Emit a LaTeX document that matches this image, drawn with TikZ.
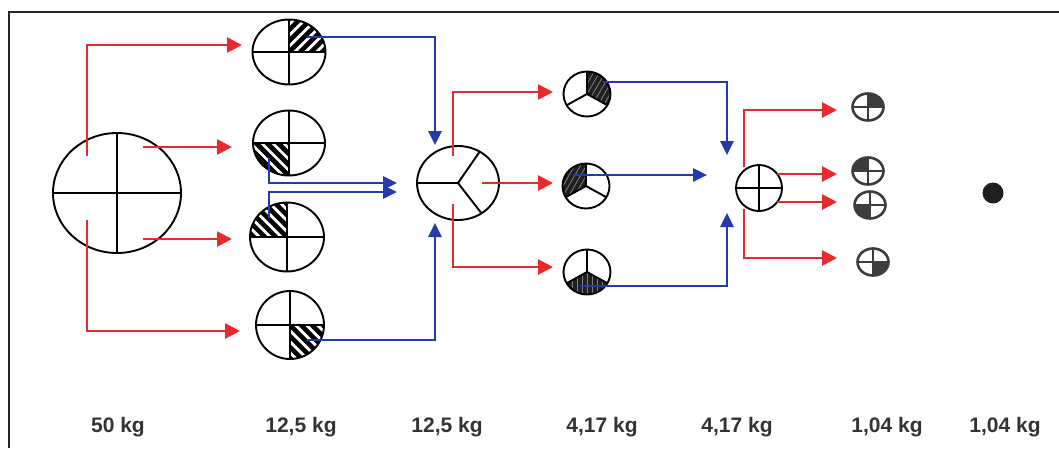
\documentclass[tikz,border=0pt]{standalone}
\usepackage{fontspec}
\setmainfont{Liberation Sans}
\usetikzlibrary{arrows.meta}
\definecolor{myred}{HTML}{E62A2E}
\definecolor{myblue}{HTML}{233CAA}
\definecolor{txt}{HTML}{333333}
\definecolor{sgray}{HTML}{3C3C3C}
\tikzset{
  circ/.style={draw=black, line width=1.9pt},
  redarr/.style={draw=myred, line width=2.7pt, -{Triangle[length=15pt,width=15pt]}},
  bluearr/.style={draw=myblue, line width=2.7pt, -{Triangle[length=14pt,width=13pt]}},
  lbl/.style={font=\bfseries\fontsize{21}{25}\selectfont, text=txt, anchor=base, inner sep=0pt},
  smallc/.style={draw=sgray, line width=2.6pt},
}
% quarter circle: #1 name, #2 x, #3 y, #4 rx, #5 ry, #6 start angle, #7 slope sign
\newcommand\qcirc[7]{%
  \coordinate (#1) at (#2,#3);
  \begin{scope}[shift={(#2,#3)}]
    \begin{scope}
      \clip (0,0) -- (#6:#4 and #5) arc[start angle=#6, delta angle=90, x radius=#4, y radius=#5] -- cycle;
      \foreach \k in {-66,-55,...,66} \draw[line width=4.6pt] ({\k-40},{-40*(#7)}) -- ({\k+40},{40*(#7)});
    \end{scope}
    \draw[circ] (0,0) ellipse[x radius=#4, y radius=#5];
    \draw[circ] (-#4,0) -- (#4,0) (0,-#5) -- (0,#5);
  \end{scope}}
% three-sector circle: #1 name, #2 x, #3 y, #4 rx, #5 ry, #6 start angle of dark sector, #7 stripe angle
\newcommand\tcirc[7]{%
  \coordinate (#1) at (#2,#3);
  \begin{scope}[shift={(#2,#3)}]
    \begin{scope}
      \clip (0,0) -- (#6:#4 and #5) arc[start angle=#6, delta angle=120, x radius=#4, y radius=#5] -- cycle;
      \fill[black!88] (-30,-30) rectangle (30,30);
      \foreach \k in {-40,-35,...,40} \draw[white!50!black, line width=0.8pt, rotate=#7] (\k,-40) -- (\k,40);
    \end{scope}
    \draw[circ] (0,0) ellipse[x radius=#4, y radius=#5];
    \draw[circ] (0,0) -- (90:#4 and #5) (0,0) -- (210:#4 and #5) (0,0) -- (330:#4 and #5);
  \end{scope}}
% small final circle: #1 name, #2 x, #3 y, #4 rx, #5 ry, #6 start angle of filled quadrant
\newcommand\scirc[6]{%
  \coordinate (#1) at (#2,#3);
  \begin{scope}[shift={(#2,#3)}]
    \fill[sgray] (0,0) -- (#6:#4 and #5) arc[start angle=#6, delta angle=90, x radius=#4, y radius=#5] -- cycle;
    \draw[smallc] (0,0) ellipse[x radius=#4, y radius=#5];
    \draw[smallc] (-#4,0) -- (#4,0) (0,-#5) -- (0,#5);
  \end{scope}}
\begin{document}
\begin{tikzpicture}[x=1pt,y=1pt]
\useasboundingbox (0,0) rectangle (1059,-448);
\fill[white] (0,0) rectangle (1059,-448);
% frame
\draw[line width=2.2pt, black!85] (9,-448) -- (9,-12) -- (1059,-12);

% big circle
\coordinate (big) at (117,-193);
\draw[circ] (big) ellipse[x radius=64, y radius=60];
\draw[circ] (53,-193) -- (181,-193) (117,-133) -- (117,-253);

% quarter circles
\qcirc{c1}{289}{-52}{36.5}{32.5}{0}{1}
\qcirc{c2}{289}{-143}{36}{32.5}{180}{-1}
\qcirc{c3}{287}{-237}{37}{34.5}{90}{-1}
\qcirc{c4}{290}{-325}{34}{34}{270}{-1}

% middle circle
\coordinate (mid) at (458,-183);
\draw[circ] (mid) ellipse[x radius=41, y radius=37];
\draw[circ] (mid) -- ++(180:41 and 37) (mid) -- ++(58:41 and 37) (mid) -- ++(-55:41 and 37);

% three-sector circles
\tcirc{t1}{587}{-94}{23.5}{22.5}{-30}{-30}
\tcirc{t2}{586}{-186}{23.5}{22.5}{90}{-30}
\tcirc{t3}{587}{-272}{23.5}{22.5}{210}{0}

% small cross circle
\coordinate (xc) at (759,-188);
\draw[circ] (xc) circle[radius=23];
\draw[circ] (736,-188) -- (782,-188) (759,-165) -- (759,-211);

% final circles
\scirc{s1}{868}{-107}{15.5}{13.5}{0}
\scirc{s2}{868}{-171}{15.5}{13.5}{90}
\scirc{s3}{870}{-205}{15.5}{13.5}{180}
\scirc{s4}{873}{-262}{15.5}{13.5}{270}

% dot
\fill[black!88] (993,-193) circle[radius=10.5] coordinate (dot);

% connector coordinates
\coordinate (r1s) at (87,-156);   \coordinate (r1e) at (242,-45);
\coordinate (r2s) at (143,-147);  \coordinate (r2e) at (232,-147);
\coordinate (r3s) at (143,-239);  \coordinate (r3e) at (232,-239);
\coordinate (r4s) at (87,-220);   \coordinate (r4e) at (240,-331);
\draw[redarr] (r1s) |- (r1e);
\draw[redarr] (r2s) -- (r2e);
\draw[redarr] (r3s) -- (r3e);
\draw[redarr] (r4s) |- (r4e);

\coordinate (b1s) at (307,-37);   \coordinate (b1e) at (435,-145);
\coordinate (b2s) at (269,-158);  \coordinate (b2e) at (397,-183);
\coordinate (b3s) at (269,-218);  \coordinate (b3e) at (397,-192);
\coordinate (b4s) at (307,-340);  \coordinate (b4e) at (435,-223);
\draw[bluearr] (b1s) -| (b1e);
\draw[bluearr] (b2s) |- (b2e);
\draw[bluearr] (b3s) |- (b3e);
\draw[bluearr] (b4s) -| (b4e);

\coordinate (m1s) at (453,-156);  \coordinate (m1e) at (553,-92);
\coordinate (m2s) at (482,-183);  \coordinate (m2e) at (553,-183);
\coordinate (m3s) at (453,-204);  \coordinate (m3e) at (553,-267);
\draw[redarr] (m1s) |- (m1e);
\draw[redarr] (m2s) -- (m2e);
\draw[redarr] (m3s) |- (m3e);

\coordinate (u1s) at (603,-82);   \coordinate (u1e) at (727,-155);
\coordinate (u2s) at (573,-175);  \coordinate (u2e) at (707,-175);
\coordinate (u3s) at (580,-286);  \coordinate (u3e) at (727,-213);
\draw[bluearr] (u1s) -| (u1e);
\draw[bluearr] (u2s) -- (u2e);
\draw[bluearr] (u3s) -| (u3e);

\coordinate (x1s) at (744,-167);  \coordinate (x1e) at (837,-110);
\coordinate (x2s) at (777,-174);  \coordinate (x2e) at (837,-174);
\coordinate (x3s) at (777,-202);  \coordinate (x3e) at (837,-202);
\coordinate (x4s) at (744,-209);  \coordinate (x4e) at (837,-258);
\draw[redarr] (x1s) |- (x1e);
\draw[redarr] (x2s) -- (x2e);
\draw[redarr] (x3s) -- (x3e);
\draw[redarr] (x4s) |- (x4e);

% labels
\node[lbl] (l1) at (118,-432) {50 kg};
\node[lbl] (l2) at (301,-432) {12,5 kg};
\node[lbl] (l3) at (447,-432) {12,5 kg};
\node[lbl] (l4) at (602,-432) {4,17 kg};
\node[lbl] (l5) at (737,-432) {4,17 kg};
\node[lbl] (l6) at (887,-432) {1,04 kg};
\node[lbl] (l7) at (1005,-432) {1,04 kg};
\end{tikzpicture}
\end{document}
